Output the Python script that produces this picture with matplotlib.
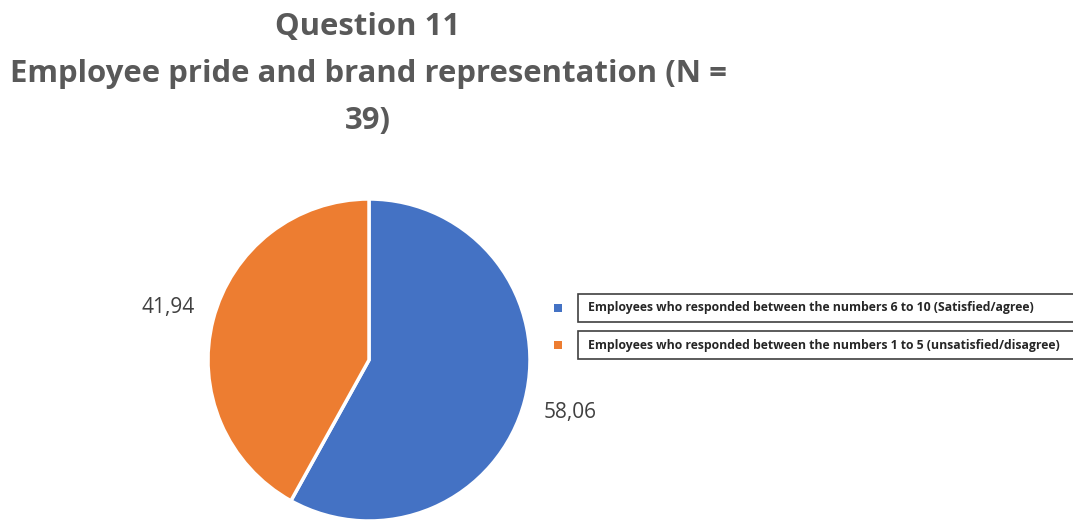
import matplotlib
matplotlib.use("Agg")
import matplotlib.pyplot as plt
from matplotlib.patches import Rectangle

# survey split for question 11
categories = [
    "Employees who responded between the numbers 6 to 10 (Satisfied/agree)",
    "Employees who responded between the numbers 1 to 5 (unsatisfied/disagree)",
]
shares = [58.06, 41.94]
colors = ["#4472C4", "#ED7D31"]
title = "Question 11\nEmployee pride and brand representation (N =\n39)"

W, H = 1073, 521
fig = plt.figure(figsize=(W / 100, H / 100), dpi=100)
fig.patch.set_facecolor("white")

# pie axes: centre (369, 360) px from top, radius 161 px
cx, cy, r = 369, 360, 161
ax = fig.add_axes([(cx - r) / W, (H - cy - r) / H, 2 * r / W, 2 * r / H])
labels = [f"{v:.2f}".replace(".", ",") for v in shares]
wedges, texts = ax.pie(
    shares, colors=colors, startangle=90, counterclock=False,
    labels=labels, labeldistance=1.29,
    wedgeprops=dict(edgecolor="white", linewidth=2.5),
    textprops=dict(fontsize=15, color="#404040", family="Open Sans"),
)
for t in texts:
    t.set_ha("center")
    t.set_va("center")
ax.set_xlim(-1, 1)
ax.set_ylim(-1, 1)
ax.set_aspect("equal")
ax.axis("off")

fig.text(368 / W, 1 - 74 / H, title, ha="center", va="center",
         fontsize=22.4, fontweight="bold", color="#595959",
         family="Open Sans", linespacing=1.75)

# legend: a square marker and a framed label per entry
rows = [308, 345]
for y, lab, c in zip(rows, categories, colors):
    fig.add_artist(Rectangle(((558 - 4) / W, 1 - (y + 4) / H), 8 / W, 8 / H,
                             transform=fig.transFigure, fc=c, ec="none"))
    fig.add_artist(Rectangle((578 / W, 1 - (y + 14) / H), 520 / W, 28 / H,
                             transform=fig.transFigure, fc="white",
                             ec="#404040", lw=1.2, clip_on=False))
    fig.text(588 / W, 1 - y / H, lab, ha="left", va="center",
             fontsize=8.8, fontweight="bold", color="#262626",
             family="Open Sans")

fig.savefig("out.png", dpi=100)
